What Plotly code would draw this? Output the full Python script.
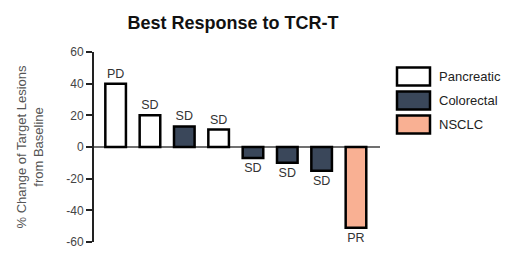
import plotly.graph_objects as go

patients = ["P1", "P2", "P3", "P4", "P5", "P6", "P7", "P8"]
change = [40, 20, 13, 11, -7, -10, -15, -51]
response = ["PD", "SD", "SD", "SD", "SD", "SD", "SD", "PR"]
tumor = ["Pancreatic", "Pancreatic", "Colorectal", "Pancreatic",
         "Colorectal", "Colorectal", "Colorectal", "NSCLC"]
legend_order = ["Pancreatic", "Colorectal", "NSCLC"]
colors = {"Pancreatic": "#ffffff", "Colorectal": "#3a475a", "NSCLC": "#f9b093"}
y_ticks = [-60, -40, -20, 0, 20, 40, 60]
y_tick_text = ["-60", "-40", "-20", "0", "20", "40", "60"]

FONT = "Arial, Liberation Sans, sans-serif"

fig = go.Figure()
fig.add_trace(go.Bar(
    x=list(range(len(patients))),
    y=change,
    text=response,
    textposition="outside",
    textfont=dict(family=FONT, size=12.5, color="#333333"),
    cliponaxis=False,
    marker=dict(color=[colors[t] for t in tumor],
                line=dict(color="#000000", width=2.5)),
    width=0.6,
    showlegend=False,
))

# zero baseline
fig.add_hline(y=0, line=dict(color="#707070", width=2), layer="below")

# custom legend (boxes + labels)
for i, name in enumerate(legend_order):
    y0 = 67.5 + i * 24
    fig.add_shape(type="rect", xref="paper", yref="paper",
                  x0=(397 - 94) / 286, x1=(430 - 94) / 286,
                  y0=1 - (y0 + 18 - 52) / 190, y1=1 - (y0 - 52) / 190,
                  fillcolor=colors[name], line=dict(color="#000000", width=2.5))
    fig.add_annotation(xref="paper", yref="paper",
                       x=(437 - 94) / 286, y=1 - (y0 + 9 - 52) / 190,
                       text=name, showarrow=False, xanchor="left", yanchor="middle",
                       font=dict(family=FONT, size=13, color="#222222"))

fig.update_layout(
    width=516, height=265,
    margin=dict(l=94, r=136, t=52, b=23),
    paper_bgcolor="white", plot_bgcolor="white",
    title=dict(text="<b>Best Response to TCR-T</b>", x=233 / 516,
               xanchor="center", y=1 - 23 / 265, yanchor="middle",
               font=dict(family=FONT, size=18, color="#111111")),
    xaxis=dict(range=[-0.63, 7.7], visible=False),
    yaxis=dict(range=[-60, 60], tickvals=y_ticks, ticktext=y_tick_text,
               ticks="outside", ticklen=6,
               tickwidth=2, tickcolor="#222222",
               showline=True, linecolor="#222222", linewidth=2,
               showgrid=False, zeroline=False,
               tickfont=dict(family=FONT, size=12, color="#444444"),
               title=dict(text="% Change of Target Lesions<br>from Baseline",
                          font=dict(family=FONT, size=13, color="#555555"),
                          standoff=20)),
    font=dict(family=FONT),
)

fig.write_html("out.html")
